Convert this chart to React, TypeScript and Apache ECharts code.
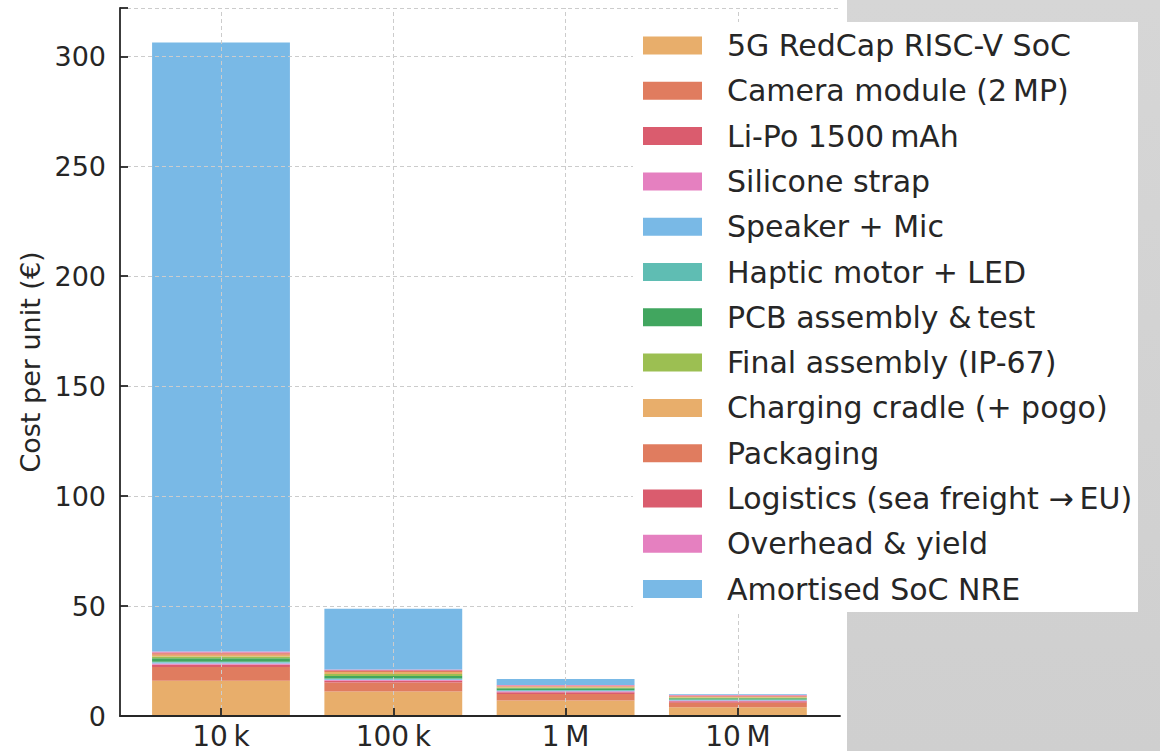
import React, { useEffect, useRef } from "react";
import * as echarts from "echarts";

const categories = ["10\u2009k", "100\u2009k", "1\u2009M", "10\u2009M"];

const componentNames = [
  "5G RedCap RISC-V SoC",
  "Camera module (2\u2009MP)",
  "Li-Po 1500\u2009mAh",
  "Silicone strap",
  "Speaker + Mic",
  "Haptic motor + LED",
  "PCB assembly &\u2009test",
  "Final assembly (IP-67)",
  "Charging cradle (+ pogo)",
  "Packaging",
  "Logistics (sea freight \u2192\u2009EU)",
  "Overhead & yield",
  "Amortised SoC NRE",
];

const socCost = [16.0, 11.1, 7.0, 4.0];
const cameraCost = [6.3, 4.1, 3.0, 2.0];
const batteryCost = [1.0, 0.8, 0.8, 0.7];
const strapCost = [0.6, 0.4, 0.4, 0.3];
const speakerCost = [0.4, 0.3, 0.3, 0.3];
const hapticCost = [0.4, 0.3, 0.3, 0.2];
const pcbCost = [1.6, 1.2, 0.8, 0.6];
const finalAssemblyCost = [0.8, 0.9, 0.4, 0.35];
const cradleCost = [0.8, 0.9, 0.4, 0.35];
const packagingCost = [0.6, 0.5, 0.3, 0.3];
const logisticsCost = [0.4, 0.3, 0.2, 0.2];
const overheadCost = [0.4, 0.3, 0.2, 0.3];
const nreCost = [277, 27.7, 2.77, 0.28];

const seriesValues = [
  socCost,
  cameraCost,
  batteryCost,
  strapCost,
  speakerCost,
  hapticCost,
  pcbCost,
  finalAssemblyCost,
  cradleCost,
  packagingCost,
  logisticsCost,
  overheadCost,
  nreCost,
];

const palette = [
  "#e8ae6b",
  "#e07c5f",
  "#da5c6e",
  "#e580c0",
  "#79b9e6",
  "#5fbdb3",
  "#41a65f",
  "#9cbf52",
];

const yTicks = [0, 50, 100, 150, 200, 250, 300];

const FONT = "DejaVu Sans";
const INK = "#262626";
const GRID = "#cccccc";

export default function App() {
  const ref = useRef<HTMLDivElement>(null);

  useEffect(() => {
    if (!ref.current) return;
    const chart = echarts.init(ref.current, null, { renderer: "svg" });

    const series: any[] = seriesValues.map((vals, i) => ({
      name: componentNames[i],
      type: "bar",
      stack: "total",
      xAxisIndex: 1,
      yAxisIndex: 1,
      barWidth: "80%",
      data: vals,
      itemStyle: { color: palette[i % palette.length] },
      emphasis: { disabled: true },
    }));

    series[series.length - 1].markLine = {
      silent: true,
      symbol: "none",
      z: 5,
      label: { show: false },
      lineStyle: { type: [4, 3], color: GRID, width: 1 },
      data: categories.map((c) => ({ xAxis: c })),
    };

    const option: any = {
      animation: false,
      backgroundColor: "#ffffff",
      textStyle: { fontFamily: FONT },
      grid: [
        { left: 120, top: 8, width: 720, height: 708 },
        { left: 134.85, top: 8, width: 689.2, height: 708 },
      ],
      xAxis: [
        {
          type: "value",
          gridIndex: 0,
          min: 0,
          max: 1,
          z: 6,
          axisLine: { show: true, onZero: false, lineStyle: { color: INK, width: 1.8 } },
          axisTick: { show: false },
          axisLabel: { show: false },
          splitLine: { show: false },
        },
        {
          type: "category",
          gridIndex: 1,
          data: categories,
          z: 6,
          axisLine: { show: false },
          axisTick: {
            show: true,
            inside: true,
            alignWithLabel: true,
            length: 8,
            lineStyle: { color: INK, width: 1.8 },
          },
          axisLabel: {
            fontSize: 28,
            color: INK,
            fontFamily: FONT,
            margin: 6,
          },
          splitLine: { show: false },
        },
      ],
      yAxis: [
        {
          type: "value",
          gridIndex: 0,
          min: 0,
          max: 322,
          interval: 50,
          z: 6,
          name: "Cost per unit (\u20ac)",
          nameLocation: "middle",
          nameGap: 70,
          nameTextStyle: { fontSize: 27, color: INK, fontFamily: FONT },
          axisLine: { show: true, lineStyle: { color: INK, width: 1.8 } },
          axisTick: {
            show: true,
            inside: true,
            length: 8,
            lineStyle: { color: INK, width: 1.8 },
          },
          axisLabel: {
            fontSize: 27,
            color: INK,
            fontFamily: FONT,
            margin: 14,
            customValues: yTicks,
          },
          splitLine: {
            show: true,
            lineStyle: { type: [4, 3], color: GRID, width: 1 },
          },
        },
        {
          type: "value",
          gridIndex: 1,
          min: 0,
          max: 322,
          show: false,
          splitLine: { show: false },
        },
      ],
      legend: {
        orient: "vertical",
        left: 643,
        top: 30,
        padding: 0,
        z: 20,
        selectedMode: false,
        icon: "rect",
        itemWidth: 59,
        itemHeight: 18,
        itemGap: 14.3,
        data: componentNames,
        textStyle: {
          fontSize: 30,
          color: INK,
          fontFamily: FONT,
          lineHeight: 31,
          padding: [0, 0, 0, 20],
        },
      },
      graphic: [
        {
          type: "rect",
          z: 10,
          silent: true,
          shape: { x: 847, y: 0, width: 313, height: 751 },
          style: {
            fill: new echarts.graphic.LinearGradient(0, 0, 0, 1, [
              { offset: 0, color: "#d6d6d6" },
              { offset: 1, color: "#cfcfcf" },
            ]),
          },
        },
        {
          type: "rect",
          z: 11,
          silent: true,
          shape: { x: 633, y: 22, width: 505, height: 590 },
          style: { fill: "#ffffff" },
        },
      ],
      series,
    };

    chart.setOption(option);
    return () => chart.dispose();
  }, []);

  return (
    <div
      ref={ref}
      style={{ position: "fixed", left: 0, top: 0, width: 1160, height: 751 }}
    />
  );
}
